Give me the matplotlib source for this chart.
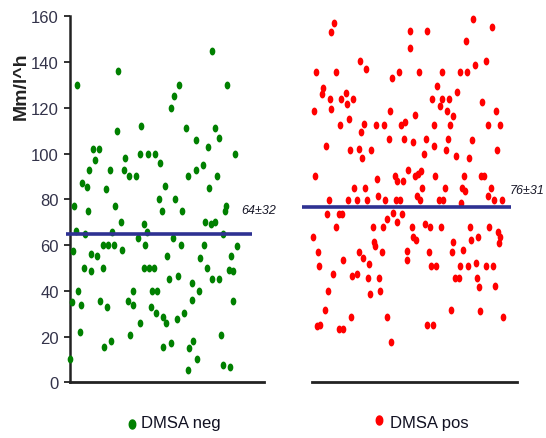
import numpy as np
import matplotlib
matplotlib.use("Agg")
import matplotlib.pyplot as plt

plt.rcParams['font.family'] = ['Liberation Sans Narrow', 'Liberation Sans', 'DejaVu Sans']

# DMSA negative group: jitter position and value (Mm/l^h)
neg_x = [77, 118, 212, 227, 179, 174, 171, 117, 141, 186, 215, 219, 196, 208, 235,
         93, 99, 95, 89, 110, 82, 87, 106, 125, 124, 129, 136, 140, 148, 155,
         160, 165, 159, 175, 188, 196, 203, 209, 217, 74, 88, 115, 162, 182,
         226, 225, 76, 85, 73, 121, 112, 103, 108, 114, 122, 91, 97, 84, 91,
         103, 138, 144, 147, 145, 144, 149, 154, 152, 157, 151, 156, 167, 169,
         173, 178, 181, 163, 166, 171, 177, 184, 163, 72, 78, 81, 80, 70, 100,
         107, 104, 111, 128, 133, 133, 130, 140, 205, 204, 200, 207, 211, 215,
         223, 212, 219, 199, 192, 192, 189, 193, 197, 188, 221, 223, 230, 229,
         233, 231, 237, 233]
neg_y = [130, 136, 145, 130, 130, 125, 120, 110, 112, 111, 111, 107, 106, 103, 100,
         102, 102, 97, 93, 93, 87, 85.5, 84.5, 98, 93, 90, 90, 100, 100, 100,
         96, 86, 80, 80, 90, 93, 95, 85, 90, 77, 75, 77, 75, 75,
         77, 75, 66, 65, 57.5, 70, 65.5, 60, 60, 60, 58, 56, 55, 50, 48.5,
         50, 63, 69, 65.5, 60, 50, 50, 50, 40, 40, 33, 30.5, 55, 45,
         63, 46.5, 60, 28.5, 26, 17, 27.5, 30.5, 15.5, 35, 40, 34, 22, 10, 35.5,
         33, 15.5, 18, 35.5, 40, 34, 20.5, 26, 70, 60, 54.5, 50, 69, 70,
         65, 45, 45, 40, 43.5, 36, 15, 18, 10, 5.5, 20.5, 7.5, 6.5, 49,
         48.5, 55, 59.5, 35.5]

# DMSA positive group
pos_x = [334, 331, 473, 492, 410, 427, 410, 466, 360, 366, 486, 475, 316, 336, 399,
         392, 419, 442, 460, 467, 437, 457, 323, 322, 330, 346, 341, 347, 353, 331,
         314, 432, 442, 449, 440, 447, 482, 496, 390, 415, 453, 349, 340, 364, 361,
         376, 384, 401, 405, 434, 450, 488, 500, 326, 350, 359, 362, 371, 389, 404,
         413, 426, 434, 424, 446, 448, 456, 469, 472, 497, 315, 408, 377, 395, 397,
         403, 415, 421, 418, 435, 464, 481, 484, 354, 365, 378, 422, 417, 445, 462,
         465, 491, 488, 329, 348, 357, 367, 385, 396, 400, 420, 439, 443, 461, 494,
         502, 327, 339, 342, 393, 402, 387, 397, 383, 373, 336, 412, 425, 430, 441,
         470, 489, 313, 413, 416, 374, 375, 453, 471, 478, 498, 500, 499, 318, 359,
         363, 382, 407, 407, 429, 452, 463, 343, 319, 369, 431, 436, 460, 468, 476,
         486, 493, 333, 352, 357, 368, 379, 380, 370, 455, 459, 477, 479, 495, 328,
         325, 317, 320, 339, 343, 351, 387, 391, 427, 433, 451, 480, 503]
pos_y = [157, 153, 159, 155.5, 153.5, 153.5, 146, 149, 140.5, 137, 140.5, 138.5, 135.5, 135.5, 135.5,
         133, 135.5, 135.5, 135.5, 135.5, 129.5, 127, 128.5, 126, 124, 126.5, 124, 121.5, 124, 119.5,
         118.5, 124, 124, 124, 121, 118.5, 122.5, 118.5, 118.5, 117, 116.5, 115, 112.5, 113, 109.5,
         112.5, 112.5, 112.5, 114, 112.5, 112.5, 112.5, 112.5, 103.5, 101.5, 102, 98, 101.5, 106.5, 106.5,
         105, 106.5, 103.5, 100, 101.5, 106.5, 99, 98, 106, 101.5, 90, 93, 89, 90, 88,
         88, 90, 92.5, 91, 90, 90, 90, 90, 85, 85, 81.5, 85, 81.5, 85, 85,
         83.5, 85, 81.5, 79.5, 79.5, 79.5, 79.5, 79.5, 79.5, 79.5, 79.5, 79.5, 79.5, 78.5, 79.5,
         79.5, 73.5, 73.5, 73.5, 74, 73.5, 71.5, 70, 68, 68, 68, 68, 69, 68, 68,
         68, 68, 63.5, 63.5, 62, 61.5, 59.5, 61.5, 62, 63.5, 65.5, 63.5, 61, 57, 57,
         54.5, 57, 57.5, 53.5, 57, 57, 58, 53.5, 51, 51.5, 51, 51, 51, 51, 52,
         51, 51, 47.5, 46.5, 47.5, 45.5, 45.5, 40, 38.5, 45.5, 45.5, 45.5, 41.5, 42, 40,
         31.5, 24.5, 25, 23.5, 23.5, 28.5, 28.5, 17.5, 25, 25, 31.5, 31, 28.5]

# mean lines as drawn, with their labels
means = [65, 76.5]
mean_labels = ["64\u00b132", "76\u00b131"]
groups = ["DMSA neg", "DMSA pos"]
colors = ["#008000", "#ff0000"]
line_color = "#2e3192"
text_color = "#33334a"

# vertically stretched dot, as in the original
t = np.linspace(0, 2 * np.pi, 40)
dot = list(zip(0.72 * np.cos(t), np.sin(t)))

W, H = 546, 439
fig = plt.figure(figsize=(W / 100, H / 100), dpi=100)
y0, yh = (H - 383.3) / H, 366 / H
ax1 = fig.add_axes([70 / W, y0, 194 / W, yh])
ax2 = fig.add_axes([300 / W, y0, 220 / W, yh])

for ax in (ax1, ax2):
    ax.set_ylim(0, 160)
    ax.spines['top'].set_visible(False)
    ax.spines['right'].set_visible(False)
    ax.spines['bottom'].set_linewidth(2)
    ax.spines['bottom'].set_color('#222222')
    ax.set_xticks([])
    ax.patch.set_visible(False)

ax1.set_xlim(70, 264)
ax2.set_xlim(300, 520)
ax2.spines['left'].set_visible(False)
ax2.set_yticks([])
ax2.spines['bottom'].set_bounds(312, 517)

ax1.spines['left'].set_linewidth(1.8)
ax1.spines['left'].set_color('#222222')
ax1.set_yticks(range(0, 161, 20))
ax1.tick_params(axis='y', length=4, width=1.3, color='#222222', pad=4,
                labelsize=12, labelcolor=text_color)

ax1.scatter(neg_x, neg_y, marker=dot, s=32, color=colors[0], lw=0, clip_on=False, zorder=3)
ax2.scatter(pos_x, pos_y, marker=dot, s=32, color=colors[1], lw=0, clip_on=False, zorder=3)

ax1.hlines(means[0], 66, 252, color=line_color, lw=2.6, clip_on=False, zorder=4)
ax2.hlines(means[1], 302, 511, color=line_color, lw=2.6, clip_on=False, zorder=4)

ax1.text(241, 75.3, mean_labels[0], style='italic', fontsize=9, color='#1a1a2a',
         va='center', ha='left')
ax2.text(510, 84, mean_labels[1], style='italic', fontsize=9, color='#1a1a2a',
         va='center', ha='left')

fig.text(21 / W, 1 - 86 / H, "Mm/l^h", rotation=90, fontweight='bold',
         family=['Liberation Sans', 'DejaVu Sans'], fontsize=14,
         color='#222222', ha='center', va='center')

# legend entries under each panel
for (mx, my, tx), name, c in zip([(131.7, 425, 140.7), (379, 421, 390)], groups, colors):
    fig.add_artist(plt.Line2D([mx / W], [1 - my / H], marker=dot, ms=6.5, color=c, lw=0,
                              transform=fig.transFigure))
    fig.text(tx / W, 1 - 424 / H, name, fontsize=12, color='#111122',
             ha='left', va='center')

fig.savefig("out.png", dpi=100)
